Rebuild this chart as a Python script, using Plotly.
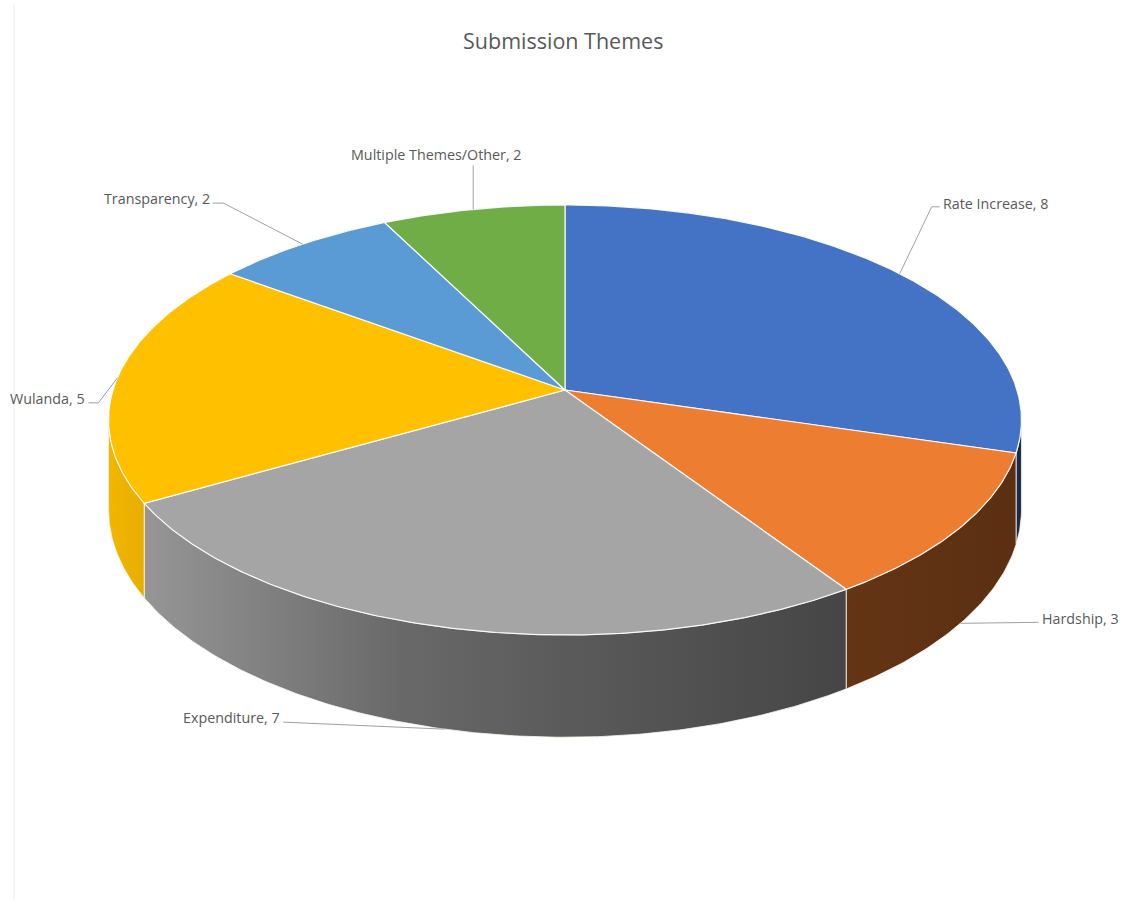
import numpy as np
import plotly.graph_objects as go

# ---- data ----
labels = ["Rate Increase", "Hardship", "Expenditure", "Wulanda", "Transparency", "Multiple Themes/Other"]
values = [8, 3, 7, 5, 2, 2]
title_text = "Submission Themes"

# ---- styles ----
colors = ["#4472C4", "#ED7D31", "#A5A5A5", "#FFC000", "#5B9BD5", "#70AD47"]
# leader offsets from the slice anchor point: (elbow dx, dy), (end dx, dy), text side
label_style = {
    "Rate Increase": dict(elbow=(32, -67), end=(40, -67), side="left", tdy=-3),
    "Hardship": dict(elbow=(70, -1), end=(78, -1), side="left", tdy=-4),
    "Expenditure": dict(elbow=(-150, -7), end=(-161, -7), side="right", tdy=-5),
    "Wulanda": dict(elbow=(-19, 25), end=(-29, 25), side="right", tdy=-4),
    "Transparency": dict(elbow=(-79, -41), end=(-90, -41), side="right", tdy=-5),
    "Multiple Themes/Other": dict(elbow=(0, -44), end=(0, -44), side="top", tdy=0),
}
TEXT_COLOR = "#595959"
FONT = "Open Sans"
LABEL_SIZE = 14.3
TITLE_SIZE = 21.5

# 3D pie projection (pixel space)
CX, CY = 565.0, 390.0
A, B, P, T = 452.0, 210.8, 0.1395, 88.0


def proj(phi_deg, drop=0.0):
    ph = np.radians(phi_deg)
    x, y = np.sin(ph), np.cos(ph)
    w = 1 + P * y
    return CX + A * x / w, CY - B * y / w + T * drop / w


def hex_scale(c, f):
    c = c.lstrip("#")
    r, g, b = int(c[0:2], 16), int(c[2:4], 16), int(c[4:6], 16)
    return "rgb(%d,%d,%d)" % (min(255, r * f), min(255, g * f), min(255, b * f))


shade_stops = [(0.0, 0.95), (0.15, 0.80), (0.32, 0.64), (0.48, 0.56), (0.65, 0.49), (0.8, 0.43), (1.0, 0.38)]

total = float(sum(values))
cum = np.concatenate([[0], np.cumsum(values)]) / total * 360.0
phi_vis_r = np.degrees(np.arccos(-P))
phi_vis_l = 360 - phi_vis_r

fig = go.Figure()

# side faces
x_left, _ = proj(phi_vis_l)
x_right, _ = proj(phi_vis_r)
for i, lab in enumerate(labels):
    a0, a1 = cum[i], cum[i + 1]
    s0, s1 = max(a0, phi_vis_r), min(a1, phi_vis_l)
    if s1 <= s0:
        continue
    ph = np.linspace(s0, s1, max(3, int((s1 - s0) * 2)))
    tx, ty = proj(ph)
    bx, by = proj(ph[::-1], 1.0)
    xs = np.concatenate([tx, bx, tx[:1]])
    ys = np.concatenate([ty, by, ty[:1]])
    cs = [[s, hex_scale(colors[i], f)] for s, f in shade_stops]
    fig.add_trace(go.Scatter(
        x=xs, y=ys, mode="lines", fill="toself",
        fillgradient=dict(type="horizontal", colorscale=cs, start=x_left, stop=x_right),
        line=dict(color="rgba(255,245,235,0.8)", width=1),
        hoverinfo="skip", showlegend=False))

# top faces
for i, lab in enumerate(labels):
    a0, a1 = cum[i], cum[i + 1]
    ph = np.linspace(a0, a1, max(3, int((a1 - a0) * 2)))
    ex, ey = proj(ph)
    xs = np.concatenate([[CX], ex, [CX]])
    ys = np.concatenate([[CY], ey, [CY]])
    fig.add_trace(go.Scatter(
        x=xs, y=ys, mode="lines", fill="toself", fillcolor=colors[i],
        line=dict(color="rgba(255,255,255,0.9)", width=1.2),
        hoverinfo="skip", showlegend=False, name=lab))

# leader lines and labels
annotations = []
for i, lab in enumerate(labels):
    mid = (cum[i] + cum[i + 1]) / 2
    on_side = phi_vis_r < mid < phi_vis_l
    px, py = proj(mid, 1.0 if on_side else 0.0)
    st = label_style[lab]
    ex_, ey_ = px + st["elbow"][0], py + st["elbow"][1]
    nx, ny = px + st["end"][0], py + st["end"][1]
    fig.add_trace(go.Scatter(
        x=[float(px), float(ex_), float(nx)], y=[float(py), float(ey_), float(ny)],
        mode="lines", line=dict(color="#A0A0A0", width=1),
        hoverinfo="skip", showlegend=False))
    txt = f"{lab}, {values[i]}"
    font = dict(family=FONT, size=LABEL_SIZE, color=TEXT_COLOR)
    if st["side"] == "left":
        annotations.append(dict(x=nx + 1, y=ny + st["tdy"], text=txt, xanchor="left", yanchor="middle",
                                showarrow=False, font=font))
    elif st["side"] == "right":
        annotations.append(dict(x=nx - 1, y=ny + st["tdy"], text=txt, xanchor="right", yanchor="middle",
                                showarrow=False, font=font))
    else:
        annotations.append(dict(x=nx - 37, y=ny + 1, text=txt, xanchor="center", yanchor="bottom",
                                showarrow=False, font=font))

annotations.append(dict(x=563, y=40, text=title_text, xanchor="center", yanchor="middle", showarrow=False,
                        font=dict(family=FONT, size=TITLE_SIZE, color=TEXT_COLOR)))

fig.update_layout(
    width=1125, height=905,
    margin=dict(l=0, r=0, t=0, b=0),
    paper_bgcolor="white", plot_bgcolor="white",
    xaxis=dict(range=[0, 1125], visible=False, fixedrange=True),
    yaxis=dict(range=[905, 0], visible=False, fixedrange=True),
    annotations=annotations,
    shapes=[dict(type="line", xref="x", yref="y", x0=14, x1=14, y0=4, y1=901,
                 line=dict(color="#EEEEEE", width=1))],
    showlegend=False,
)

fig.write_html("out.html")
